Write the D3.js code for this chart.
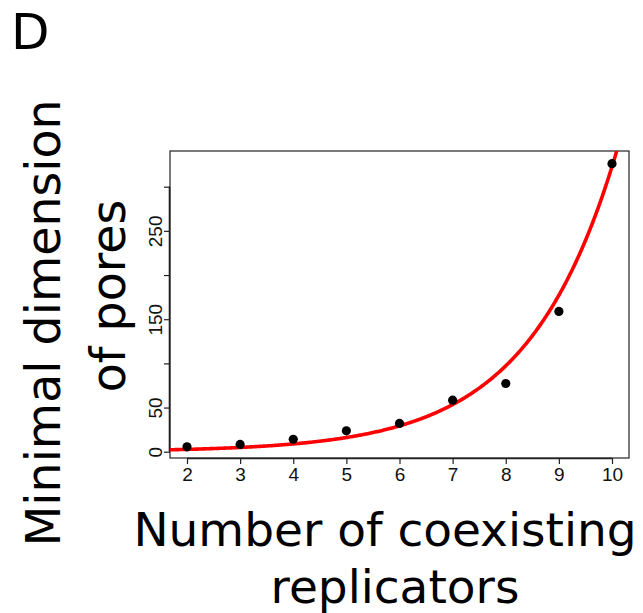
<!DOCTYPE html>
<html>
<head>
<meta charset="utf-8">
<script src="https://cdn.jsdelivr.net/npm/d3@7"></script>
<style>
  html, body { margin: 0; padding: 0; background: #fff; }
  svg { display: block; }
</style>
</head>
<body>
<div id="chart"></div>
<script>
/* ============================
   DATA
============================ */
const replicators = [2, 3, 4, 5, 6, 7, 8, 9, 10];
const poreSize = [5.6, 8.3, 14, 23.7, 32, 58.4, 77.2, 158.8, 326];

const xTicks = [2, 3, 4, 5, 6, 7, 8, 9, 10];
const yTicks = [0, 50, 100, 150, 200, 250, 300];
const yTickLabels = ["0", "50", "", "150", "", "250", ""];

// exponential fit  y = a * exp(b * x)
const FIT_A = 0.8;
const FIT_B = 0.6;

/* ============================
   LAYOUT
============================ */
const W = 643, H = 613;
const plot = { left: 170, right: 629, top: 151, bottom: 458 };

const TITLE_FONT = "'DejaVu Sans', sans-serif";
const TICK_FONT = "'Liberation Sans', Arial, sans-serif";

const svg = d3.select("#chart")
  .append("svg")
  .attr("width", W)
  .attr("height", H);

// R-style 4% padding on both axes
const x = d3.scaleLinear().domain([1.68, 10.32]).range([plot.left, plot.right]);
const y = d3.scaleLinear().domain([-7.1, 340.4]).range([plot.bottom, plot.top]);

svg.append("defs").append("clipPath").attr("id", "clip")
  .append("rect")
  .attr("x", plot.left).attr("y", plot.top)
  .attr("width", plot.right - plot.left)
  .attr("height", plot.bottom - plot.top);

/* box */
svg.append("rect")
  .attr("x", plot.left).attr("y", plot.top)
  .attr("width", plot.right - plot.left)
  .attr("height", plot.bottom - plot.top)
  .attr("fill", "none")
  .attr("stroke", "#222")
  .attr("stroke-width", 1.2);

/* axes */
const xAxis = d3.axisBottom(x).tickValues(xTicks).tickSize(6).tickPadding(4).tickFormat(d3.format("d"));
const gx = svg.append("g")
  .attr("transform", `translate(0,${plot.bottom})`)
  .call(xAxis);
gx.select(".domain").attr("d", `M${x(2)},0.5H${x(10)}`).attr("stroke", "#222").attr("stroke-width", 1.6);
gx.selectAll(".tick line").attr("stroke", "#222").attr("stroke-width", 1.2);
gx.selectAll(".tick text")
  .attr("font-family", TICK_FONT)
  .attr("font-size", 19)
  .attr("fill", "#111");

const yAxis = d3.axisLeft(y).tickValues(yTicks).tickSize(6)
  .tickFormat((d, i) => yTickLabels[i]);
const gy = svg.append("g")
  .attr("transform", `translate(${plot.left},0)`)
  .call(yAxis);
gy.select(".domain").attr("d", `M-0.5,${y(0)}V${y(300)}`).attr("stroke", "#222").attr("stroke-width", 1.6);
gy.selectAll(".tick line").attr("stroke", "#222").attr("stroke-width", 1.2);
gy.selectAll(".tick text")
  .attr("font-family", TICK_FONT)
  .attr("font-size", 19)
  .attr("fill", "#111")
  .attr("x", null).attr("dy", null)
  .attr("text-anchor", "middle")
  .attr("transform", "translate(-8,0) rotate(-90)");

/* fitted curve */
const curveX = d3.range(1.68, 10.33, 0.02);
const line = d3.line()
  .x(d => x(d))
  .y(d => y(FIT_A * Math.exp(FIT_B * d)));

svg.append("path")
  .datum(curveX)
  .attr("clip-path", "url(#clip)")
  .attr("d", line)
  .attr("fill", "none")
  .attr("stroke", "#ff0000")
  .attr("stroke-width", 3.6);

/* points */
svg.append("g")
  .selectAll("circle")
  .data(replicators)
  .enter()
  .append("circle")
  .attr("cx", d => x(d))
  .attr("cy", (d, i) => y(poreSize[i]))
  .attr("r", 4.6)
  .attr("fill", "#000");

/* titles */
svg.append("text")
  .attr("x", 11).attr("y", 49)
  .attr("font-family", TITLE_FONT)
  .attr("font-size", 50)
  .text("D");

const xt = svg.append("g")
  .attr("font-family", TITLE_FONT)
  .attr("font-size", 47)
  .attr("text-anchor", "middle");
xt.append("text").attr("x", 385).attr("y", 546).text("Number of coexisting");
xt.append("text").attr("x", 395).attr("y", 603).text("replicators");

const yt = svg.append("g")
  .attr("font-family", TITLE_FONT)
  .attr("font-size", 47.5)
  .attr("text-anchor", "middle");
yt.append("text").attr("transform", "translate(60,323) rotate(-90)").text("Minimal dimension");
yt.append("text").attr("transform", "translate(125,296) rotate(-90)").text("of pores");
</script>
</body>
</html>
